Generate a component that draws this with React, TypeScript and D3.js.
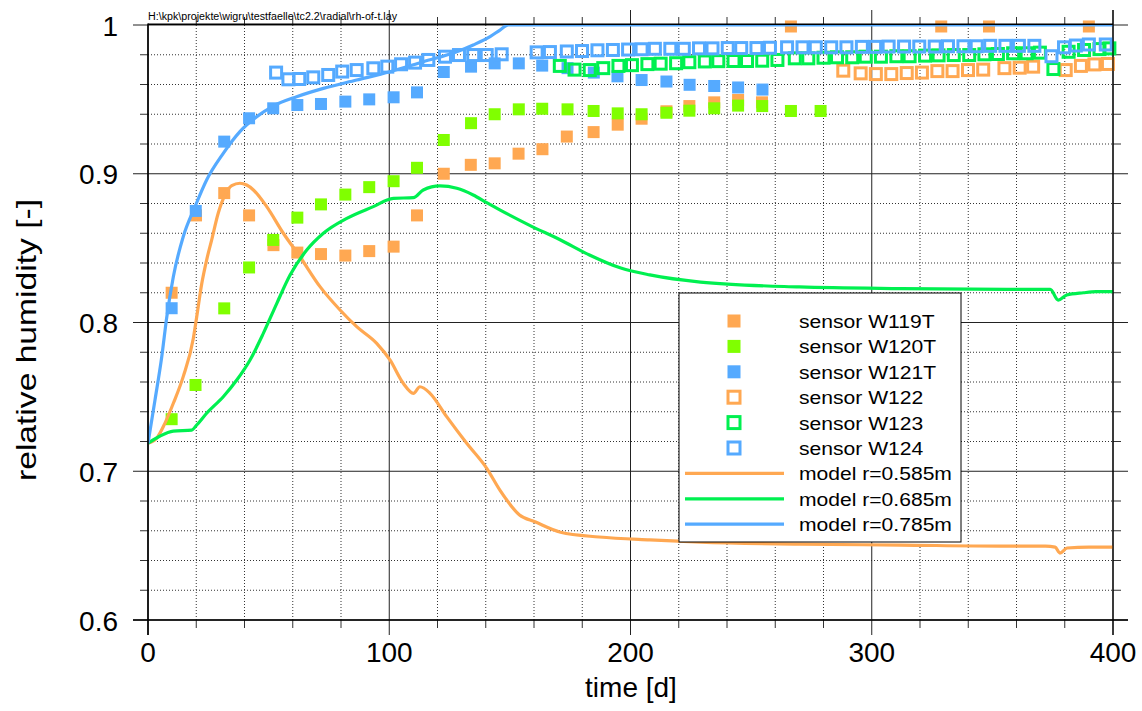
import React from "react";
import * as d3 from "d3";

// ---------- data ----------
const headerText = "H:\\kpk\\projekte\\wigru\\testfaelle\\tc2.2\\radial\\rh-of-t.lay";
const xTitle = "time [d]";
const yTitle = "relative humidity [-]";

const xMajorTicks = [0, 100, 200, 300, 400];
const xTickLabels = ["0", "100", "200", "300", "400"];
const yMajorTicks = [0.6, 0.7, 0.8, 0.9, 1.0];
const yTickLabels = ["0.6", "0.7", "0.8", "0.9", "1"];

// sensor W119T (orange, filled)
const sensorW119T: [number, number][] = [
  [9.8, 0.820], [19.9, 0.872], [31.6, 0.887], [41.9, 0.872], [52, 0.852], [61.9, 0.847],
  [71.7, 0.846], [81.8, 0.845], [91.7, 0.848], [101.8, 0.851], [111.5, 0.872], [122.6, 0.900],
  [133.8, 0.906], [143.7, 0.907], [153.6, 0.9135], [163.5, 0.9165], [173.6, 0.925], [184.7, 0.928],
  [194.7, 0.933], [204.6, 0.937], [214.9, 0.942], [224.4, 0.9455], [234.7, 0.948], [244.6, 0.9496],
  [254.5, 0.948], [266.5, 0.999], [328.8, 0.999], [348.6, 0.999], [390, 0.999],
];
// sensor W120T (lime, filled)
const sensorW120T: [number, number][] = [
  [9.8, 0.735], [19.7, 0.758], [31.6, 0.8095], [41.9, 0.837], [51.9, 0.8555], [61.9, 0.8705],
  [71.7, 0.8794], [81.8, 0.886], [91.7, 0.891], [101.8, 0.895], [111.5, 0.904], [122.6, 0.9227],
  [133.9, 0.934], [143.7, 0.940], [153.7, 0.9433], [163.4, 0.9437], [173.9, 0.9433], [184.7, 0.9422],
  [194.7, 0.9406], [204.6, 0.940], [214.9, 0.941], [224.4, 0.9424], [234.7, 0.944], [244.6, 0.9458],
  [254.6, 0.9455], [266.5, 0.9422], [278.8, 0.9422],
];
// sensor W121T (blue, filled)
const sensorW121T: [number, number][] = [
  [9.8, 0.8096], [19.8, 0.875], [31.6, 0.9216], [41.9, 0.9373], [51.9, 0.944], [61.9, 0.9462],
  [71.7, 0.9469], [81.8, 0.9485], [91.7, 0.950], [101.8, 0.9514], [111.5, 0.9547], [122.6, 0.9684],
  [133.9, 0.972], [143.7, 0.9742], [153.7, 0.9742], [163.4, 0.9727], [173.9, 0.971], [184.8, 0.968],
  [194.6, 0.9655], [204.6, 0.963], [214.9, 0.962], [224.5, 0.9598], [234.7, 0.959], [244.6, 0.958],
  [254.7, 0.9566],
];
// sensor W122 (orange, open)
const sensorW122: [number, number][] = [
  [288.2, 0.9693], [295.4, 0.9675], [301.7, 0.967], [308.1, 0.967], [314.5, 0.9677], [320.8, 0.968],
  [327.2, 0.969], [333.5, 0.969], [339.9, 0.9697], [346.2, 0.970], [355, 0.971], [361.3, 0.9713],
  [366.9, 0.972], [380.4, 0.9697], [386.7, 0.9725], [392.3, 0.9735], [397.9, 0.9738],
];
// sensor W123 (green, open)
const sensorW123: [number, number][] = [
  [170.7, 0.9725], [176.8, 0.970], [183.1, 0.9697], [188.7, 0.971], [195.0, 0.9725], [200.6, 0.973],
  [207.0, 0.9737], [212.5, 0.974], [218.9, 0.9743], [224.4, 0.975], [230.8, 0.9755], [236.4, 0.9757],
  [242.7, 0.9758], [248.3, 0.9758], [254.6, 0.976], [260.9, 0.9765], [268.1, 0.9776], [273.7, 0.9776],
  [280, 0.978], [285.6, 0.9783], [291.9, 0.9783], [297.5, 0.9787], [303.8, 0.9787], [310.2, 0.979],
  [315.7, 0.979], [322.1, 0.9794], [327.7, 0.9796], [334, 0.9798], [340.4, 0.9798], [346.7, 0.9803],
  [352.3, 0.9805], [358.6, 0.981], [364.2, 0.981], [369.7, 0.9814], [375.3, 0.9704], [381.6, 0.982],
  [388, 0.9832], [394.4, 0.9838], [398.5, 0.9843],
];
// sensor W124 (blue, open)
const sensorW124: [number, number][] = [
  [53.1, 0.968], [58.2, 0.9635], [62.7, 0.9637], [68.5, 0.9648], [74.7, 0.9664], [80.5, 0.9687],
  [86.5, 0.9697], [93.4, 0.9709], [99.2, 0.972], [104.9, 0.9736], [110.7, 0.9747], [116.2, 0.9765],
  [123.1, 0.9787], [128.9, 0.9798], [134.8, 0.9798], [140.4, 0.9798], [146.6, 0.9803], [161.1, 0.9816],
  [166.6, 0.9818], [173.6, 0.9822], [179.9, 0.9825], [186.3, 0.983], [192.7, 0.9832], [199.0, 0.9835],
  [204.6, 0.9837], [210.1, 0.984], [216.5, 0.984], [222.1, 0.984], [228.4, 0.9843], [234, 0.9843],
  [240.3, 0.9845], [245.9, 0.9845], [252.2, 0.9845], [257.8, 0.9847], [264.9, 0.985], [271.3, 0.985],
  [276.8, 0.985], [283.2, 0.985], [289.5, 0.985], [295.9, 0.9853], [301.4, 0.9853], [307, 0.9855],
  [313.4, 0.9855], [319.7, 0.9855], [326.1, 0.9855], [331.6, 0.9857], [338, 0.9857], [343.5, 0.9857],
  [349.1, 0.986], [355.4, 0.986], [361, 0.986], [367.4, 0.986], [374.5, 0.979], [379.7, 0.985],
  [384.6, 0.9862], [390, 0.9869], [397, 0.9869],
];

// model r=0.585m (orange line)
const model585: [number, number][] = [
  [0, 0.7188], [3.6, 0.7222], [7, 0.7322], [10.5, 0.7457], [14.6, 0.7636], [18.8, 0.7894],
  [20.2, 0.8039], [22.3, 0.8263], [24.3, 0.842], [26.4, 0.8555], [29.1, 0.8734], [31.9, 0.8857],
  [34.7, 0.892], [38.1, 0.8936], [40.9, 0.8924], [43.7, 0.8891], [49.2, 0.8779], [56.1, 0.86],
  [63, 0.8442], [71.3, 0.8241], [79.6, 0.8084], [86.5, 0.7972], [94.8, 0.786], [100.3, 0.7748],
  [105.8, 0.7591], [110, 0.7524], [112.7, 0.7568], [116.9, 0.7524], [123.8, 0.7367], [132.1, 0.7188],
  [140.4, 0.702], [146, 0.687], [154, 0.6706], [160.4, 0.666], [171, 0.659], [187, 0.6558],
  [208, 0.6538], [229, 0.6524], [270, 0.651], [312, 0.6504], [353, 0.6497], [372, 0.6497],
  [376, 0.649], [378, 0.645], [381, 0.6484], [390, 0.649], [400, 0.649],
];
// model r=0.685m (green line)
const model685: [number, number][] = [
  [0, 0.7188], [5, 0.7237], [10.5, 0.727], [18.1, 0.7277], [20.2, 0.7311], [24.3, 0.739],
  [31.2, 0.7501], [36.8, 0.7613], [42.3, 0.7748], [47.8, 0.7927], [53.4, 0.8129], [58.9, 0.8319],
  [65.8, 0.8487], [72.7, 0.86], [82.4, 0.87], [93.4, 0.8779], [101.7, 0.8835], [110, 0.8839],
  [114.1, 0.8891], [121, 0.8918], [128, 0.8902], [134.8, 0.8857], [140.4, 0.8806], [146, 0.8756],
  [158, 0.8655], [171, 0.8555], [183, 0.8454], [196, 0.8366], [208, 0.832], [229, 0.8272],
  [270, 0.8239], [312, 0.8228], [356, 0.8223], [374, 0.8223], [377.3, 0.8151], [380.8, 0.8185],
  [387.7, 0.82], [393, 0.8207], [400, 0.8207],
];
// model r=0.785m (blue line)
const model785: [number, number][] = [
  [0, 0.7188], [2.9, 0.7479], [5.7, 0.777], [7.8, 0.8039], [10.5, 0.8308], [14.6, 0.8577],
  [19.5, 0.8779], [24.3, 0.8958], [31.2, 0.9137], [38.1, 0.9283], [45.1, 0.9384], [51.9, 0.9455],
  [61.6, 0.9518], [72.7, 0.9574], [86.5, 0.963], [100.3, 0.9686], [114.1, 0.9753], [128, 0.982],
  [134.8, 0.9866], [141.8, 0.9922], [145.9, 0.9966], [149.4, 1.0], [200, 1.0], [300, 1.0], [400, 1.0],
];

const legendLabels = [
  "sensor W119T", "sensor W120T", "sensor W121T",
  "sensor W122", "sensor W123", "sensor W124",
  "model r=0.585m", "model r=0.685m", "model r=0.785m",
];

// ---------- styling ----------
const ORANGE = "#FFA852";
const LIME = "#80FF00";
const BLUE = "#55AAFF";
const GREEN = "#00F050";
const FONT = "'Liberation Sans', Arial, Helvetica, sans-serif";

const W = 1142;
const H = 711;
const L = 148, R = 1113, T = 25, B = 620;

export default function App() {
  const x = d3.scaleLinear().domain([0, 400]).range([L, R]);
  const y = d3.scaleLinear().domain([0.6, 1.0]).range([B, T]);

  const xMinor = d3.range(20, 400, 20).filter((t) => t % 100 !== 0);
  const yMinor = d3.range(1, 20).filter((i) => i % 5 !== 0).map((i) => 0.6 + i * 0.02);

  const line = d3
    .line<[number, number]>()
    .x((d) => x(d[0]))
    .y((d) => y(d[1]))
    .curve(d3.curveMonotoneX);

  const filled = (data: [number, number][], color: string, key: string) =>
    data.map((d, i) => (
      <rect key={key + i} x={x(d[0]) - 6} y={y(d[1]) - 6} width={12} height={12} fill={color} />
    ));
  const open = (data: [number, number][], color: string, key: string) =>
    data.map((d, i) => (
      <rect
        key={key + i}
        x={x(d[0]) - 5.5}
        y={y(d[1]) - 5.5}
        width={11}
        height={11}
        fill="none"
        stroke={color}
        strokeWidth={3}
      />
    ));

  const legendX0 = 679, legendY0 = 293, legendW = 282, legendH = 249;
  const rowY = (i: number) => 321 + i * 25.4;
  const markerX = 734;

  return (
    <svg
      width={W}
      height={H}
      style={{ position: "absolute", left: 0, top: 0, background: "#fff" }}
      fontFamily={FONT}
    >
      <defs>
        <clipPath id="plotClip">
          <rect x={L} y={T} width={R - L} height={B - T} />
        </clipPath>
      </defs>
      <rect x={0} y={0} width={W} height={H} fill="#fff" />

      {/* minor grid */}
      {xMinor.map((t) => (
        <line key={"xm" + t} x1={x(t)} x2={x(t)} y1={T} y2={B} stroke="#333" strokeWidth={1} strokeDasharray="1 2" />
      ))}
      {yMinor.map((v, i) => (
        <line key={"ym" + i} x1={L} x2={R} y1={y(v)} y2={y(v)} stroke="#333" strokeWidth={1} strokeDasharray="1 2" />
      ))}
      {/* minor ticks (solid, outside) */}
      {xMinor.map((t) => (
        <g key={"xmt" + t} stroke="#333" strokeWidth={1}>
          <line x1={x(t)} x2={x(t)} y1={T - 8} y2={T} />
          <line x1={x(t)} x2={x(t)} y1={B} y2={B + 8} />
        </g>
      ))}
      {yMinor.map((v, i) => (
        <g key={"ymt" + i} stroke="#333" strokeWidth={1}>
          <line x1={L - 8} x2={L} y1={y(v)} y2={y(v)} />
          <line x1={R} x2={R + 8} y1={y(v)} y2={y(v)} />
        </g>
      ))}
      {/* major grid + ticks */}
      {xMajorTicks.map((t) => (
        <line key={"xM" + t} x1={x(t)} x2={x(t)} y1={t === 0 ? T : T - 15} y2={B + 15} stroke="#222" strokeWidth={1} />
      ))}
      {yMajorTicks.map((v) => (
        <line key={"yM" + v} x1={L - 15} x2={R + 15} y1={y(v)} y2={y(v)} stroke="#222" strokeWidth={1} />
      ))}

      {/* markers */}
      {filled(sensorW119T, ORANGE, "a")}
      {filled(sensorW120T, LIME, "b")}
      {filled(sensorW121T, BLUE, "c")}
      {open(sensorW122, ORANGE, "d")}
      {open(sensorW123, GREEN, "e")}
      {open(sensorW124, BLUE, "f")}

      {/* model lines */}
      <g clipPath="url(#plotClip)" fill="none" strokeWidth={3.2} strokeLinejoin="round">
        <path d={line(model585) || ""} stroke={ORANGE} />
        <path d={line(model685) || ""} stroke={GREEN} />
        <path d={line(model785) || ""} stroke={BLUE} />
      </g>

      {/* frame */}
      <line x1={L} x2={L} y1={T - 1.6} y2={B + 15} stroke="#000" strokeWidth={1.6} />
      <line x1={L - 15} x2={R + 15} y1={B} y2={B} stroke="#000" strokeWidth={1.6} />
      <line x1={L} x2={R} y1={T - 0.8} y2={T - 0.8} stroke="#000" strokeWidth={1.6} />
      <line x1={R} x2={R} y1={T - 15} y2={B + 15} stroke="#000" strokeWidth={1.2} />

      {/* tick labels */}
      {yMajorTicks.map((v, i) => (
        <text key={"yl" + i} x={118} y={y(v) + 10.5} fontSize={28} textAnchor="end" fill="#000">
          {yTickLabels[i]}
        </text>
      ))}
      {xMajorTicks.map((t, i) => (
        <text key={"xl" + i} x={x(t)} y={662} fontSize={28} textAnchor="middle" fill="#000">
          {xTickLabels[i]}
        </text>
      ))}

      {/* axis titles */}
      <text x={631} y={697} fontSize={28} textAnchor="middle" fill="#000">{xTitle}</text>
      <text
        transform="translate(36,340) rotate(-90)"
        fontSize={28}
        textAnchor="middle"
        textLength={282}
        lengthAdjust="spacingAndGlyphs"
        fill="#000"
      >
        {yTitle}
      </text>

      {/* header */}
      <text x={148} y={20} fontSize={10} textLength={249} lengthAdjust="spacingAndGlyphs" fill="#000">
        {headerText}
      </text>

      {/* legend */}
      <rect x={legendX0} y={legendY0} width={legendW} height={legendH} fill="#fff" stroke="#000" strokeWidth={1} />
      {legendLabels.map((lab, i) => {
        const yy = rowY(i);
        let sym: React.ReactNode = null;
        if (i < 3) {
          const c = [ORANGE, LIME, BLUE][i];
          sym = <rect x={markerX - 6.5} y={yy - 6.5} width={13} height={13} fill={c} />;
        } else if (i < 6) {
          const c = [ORANGE, GREEN, BLUE][i - 3];
          sym = <rect x={markerX - 6} y={yy - 6} width={12} height={12} fill="none" stroke={c} strokeWidth={3} />;
        } else {
          const c = [ORANGE, GREEN, BLUE][i - 6];
          sym = <line x1={685} x2={784} y1={yy} y2={yy} stroke={c} strokeWidth={3.2} />;
        }
        return (
          <g key={"lg" + i}>
            {sym}
            <text transform={`translate(799,${yy + 7}) scale(1.11,1)`} fontSize={19} fill="#000">
              {lab}
            </text>
          </g>
        );
      })}
    </svg>
  );
}
